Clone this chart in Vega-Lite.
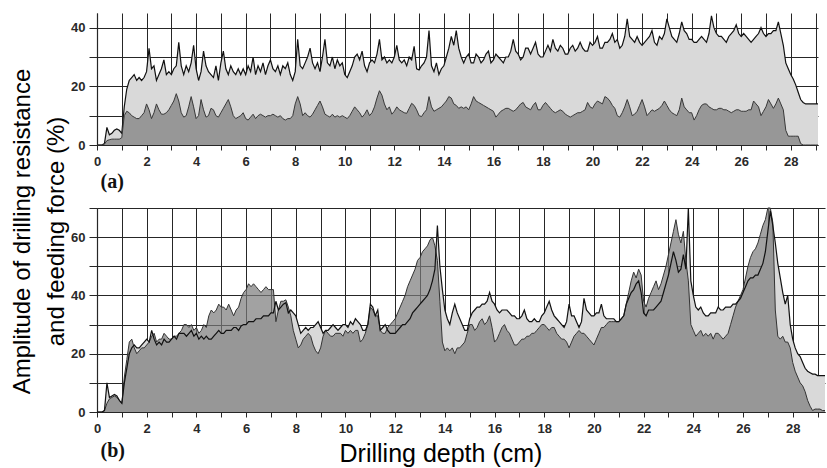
{
"$schema": "https://vega.github.io/schema/vega-lite/v6.json",
"background": "white",
"padding": {"left": 10, "top": 13, "right": 0, "bottom": 0},
"bounds": "flush",
"spacing": 63,
"title": {"text": "Drilling depth (cm)", "orient": "bottom", "anchor": "middle", "offset": -18, "dx": 22, "font": "Liberation Sans", "fontSize": 25, "fontWeight": "normal", "color": "#000"},
"config": {
"view": {"stroke": null},
"axis": {"labelFont": "Liberation Sans", "labelFontWeight": "bold", "labelFontSize": 13, "labelColor": "#2a2a2a", "labelFlush": false, "labelOverlap": false, "grid": true, "gridColor": "#262626", "gridOpacity": 1, "gridWidth": 1, "tickColor": "#262626", "domainColor": "#262626", "domainWidth": 1.2},
"axisX": {"tickSize": 5, "labelPadding": 5},
"axisY": {"tickSize": 8, "labelPadding": 4}
},
"datasets": {
"a": [
{"d":0,"u":0,"l":0},{"d":0.1,"u":0,"l":0},{"d":0.2,"u":0,"l":0},{"d":0.3,"u":0.5,"l":0.3},{"d":0.4,"u":6,"l":1.5},{"d":0.5,"u":3.5,"l":1.8},{"d":0.6,"u":4,"l":2},{"d":0.7,"u":5,"l":2},{"d":0.8,"u":5.5,"l":2},{"d":0.9,"u":5,"l":2},
{"d":1,"u":4,"l":2.5},{"d":1.1,"u":13,"l":10},{"d":1.2,"u":19,"l":11.5},{"d":1.3,"u":22,"l":11},{"d":1.4,"u":23,"l":10},{"d":1.5,"u":24,"l":9.5},{"d":1.6,"u":22,"l":9},{"d":1.7,"u":23,"l":9},{"d":1.8,"u":22,"l":10},{"d":1.9,"u":23,"l":11},
{"d":2,"u":25,"l":14},{"d":2.1,"u":33,"l":12},{"d":2.2,"u":26,"l":9},{"d":2.3,"u":27,"l":11},{"d":2.4,"u":22,"l":14},{"d":2.5,"u":24,"l":12},{"d":2.6,"u":26,"l":10.5},{"d":2.7,"u":29,"l":10.5},{"d":2.8,"u":24,"l":11},{"d":2.9,"u":25,"l":12},
{"d":3,"u":24,"l":13.5},{"d":3.1,"u":26,"l":15},{"d":3.2,"u":27,"l":17.5},{"d":3.3,"u":35,"l":15},{"d":3.4,"u":27,"l":11},{"d":3.5,"u":24,"l":9.5},{"d":3.6,"u":27,"l":10},{"d":3.7,"u":25,"l":13},{"d":3.8,"u":28,"l":16.5},{"d":3.9,"u":34,"l":13},
{"d":4,"u":26,"l":9},{"d":4.1,"u":22,"l":10},{"d":4.2,"u":25,"l":15.5},{"d":4.3,"u":32,"l":12},{"d":4.4,"u":27,"l":9.5},{"d":4.5,"u":25,"l":10},{"d":4.6,"u":24,"l":12.5},{"d":4.7,"u":23,"l":12},{"d":4.8,"u":27,"l":10},{"d":4.9,"u":22,"l":9.5},
{"d":5,"u":28,"l":11},{"d":5.1,"u":32,"l":12.5},{"d":5.2,"u":26,"l":14},{"d":5.3,"u":24,"l":15.5},{"d":5.4,"u":27,"l":13},{"d":5.5,"u":25,"l":10},{"d":5.6,"u":24,"l":9},{"d":5.7,"u":26,"l":9.5},{"d":5.8,"u":24,"l":10},{"d":5.9,"u":26,"l":11},
{"d":6,"u":24,"l":9},{"d":6.1,"u":27,"l":8.5},{"d":6.2,"u":25,"l":9.5},{"d":6.3,"u":30,"l":10.5},{"d":6.4,"u":24,"l":9},{"d":6.5,"u":27,"l":10},{"d":6.6,"u":25,"l":10.5},{"d":6.7,"u":28,"l":10},{"d":6.8,"u":24,"l":9.5},{"d":6.9,"u":27,"l":10},
{"d":7,"u":29,"l":10},{"d":7.1,"u":26,"l":10.5},{"d":7.2,"u":25,"l":10},{"d":7.3,"u":27,"l":9.5},{"d":7.4,"u":24,"l":10},{"d":7.5,"u":27,"l":9},{"d":7.6,"u":26,"l":8.5},{"d":7.7,"u":28,"l":9},{"d":7.8,"u":24,"l":9},{"d":7.9,"u":22,"l":10},
{"d":8,"u":25,"l":14},{"d":8.1,"u":36,"l":16.5},{"d":8.2,"u":27,"l":14},{"d":8.3,"u":26,"l":10},{"d":8.4,"u":28,"l":11},{"d":8.5,"u":30,"l":10},{"d":8.6,"u":33,"l":9.5},{"d":8.7,"u":28,"l":10.5},{"d":8.8,"u":26,"l":12},{"d":8.9,"u":28,"l":13.5},
{"d":9,"u":25,"l":15},{"d":9.1,"u":30,"l":13},{"d":9.2,"u":36,"l":10.5},{"d":9.3,"u":28,"l":10},{"d":9.4,"u":27,"l":9.5},{"d":9.5,"u":30,"l":10.5},{"d":9.6,"u":26,"l":9.5},{"d":9.7,"u":29,"l":10},{"d":9.8,"u":27,"l":9.5},{"d":9.9,"u":28,"l":10},
{"d":10,"u":24,"l":9.5},{"d":10.1,"u":23,"l":9},{"d":10.2,"u":25,"l":10},{"d":10.3,"u":27,"l":11.5},{"d":10.4,"u":30,"l":13},{"d":10.5,"u":31,"l":12},{"d":10.6,"u":29,"l":11},{"d":10.7,"u":32,"l":9.5},{"d":10.8,"u":27,"l":10.5},{"d":10.9,"u":25,"l":12},
{"d":11,"u":28,"l":10},{"d":11.1,"u":29,"l":11},{"d":11.2,"u":28,"l":13},{"d":11.3,"u":31,"l":16},{"d":11.4,"u":36,"l":18.5},{"d":11.5,"u":29,"l":17},{"d":11.6,"u":30,"l":14},{"d":11.7,"u":28,"l":12},{"d":11.8,"u":29,"l":13},{"d":11.9,"u":28,"l":10.5},
{"d":12,"u":30,"l":11.5},{"d":12.1,"u":34,"l":13},{"d":12.2,"u":29,"l":12},{"d":12.3,"u":28,"l":11.5},{"d":12.4,"u":29,"l":11},{"d":12.5,"u":27,"l":10.8},{"d":12.6,"u":30,"l":12.5},{"d":12.7,"u":29,"l":14.2},{"d":12.8,"u":33.6,"l":13.5},{"d":12.9,"u":26,"l":12},
{"d":13,"u":25.6,"l":10},{"d":13.1,"u":27,"l":9.7},{"d":13.2,"u":28,"l":11},{"d":13.3,"u":30,"l":12},{"d":13.4,"u":39,"l":16.5},{"d":13.5,"u":27,"l":13},{"d":13.6,"u":25,"l":11.5},{"d":13.7,"u":28,"l":12},{"d":13.8,"u":24,"l":12.5},{"d":13.9,"u":26,"l":13},
{"d":14,"u":27,"l":14},{"d":14.1,"u":30,"l":15},{"d":14.2,"u":33,"l":16.5},{"d":14.3,"u":37,"l":16},{"d":14.4,"u":34,"l":14},{"d":14.5,"u":39,"l":13.5},{"d":14.6,"u":33,"l":12.5},{"d":14.7,"u":30,"l":13},{"d":14.8,"u":28,"l":12.5},{"d":14.9,"u":30,"l":13},
{"d":15,"u":31,"l":12},{"d":15.1,"u":28,"l":14},{"d":15.2,"u":28,"l":16.5},{"d":15.3,"u":31,"l":15},{"d":15.4,"u":30,"l":14.5},{"d":15.5,"u":28,"l":14},{"d":15.6,"u":29,"l":13.5},{"d":15.7,"u":31,"l":13},{"d":15.8,"u":32,"l":12.5},{"d":15.9,"u":28,"l":12},
{"d":16,"u":29,"l":11.5},{"d":16.1,"u":31,"l":9.5},{"d":16.2,"u":30,"l":10.5},{"d":16.3,"u":29,"l":11.5},{"d":16.4,"u":28,"l":12},{"d":16.5,"u":30,"l":12.5},{"d":16.6,"u":30,"l":12.5},{"d":16.7,"u":32,"l":12},{"d":16.8,"u":36,"l":11.5},{"d":16.9,"u":32,"l":12},
{"d":17,"u":31,"l":13},{"d":17.1,"u":29,"l":14},{"d":17.2,"u":30,"l":14.5},{"d":17.3,"u":33,"l":13},{"d":17.4,"u":33,"l":12.5},{"d":17.5,"u":31,"l":12},{"d":17.6,"u":33,"l":13.5},{"d":17.7,"u":35,"l":14.5},{"d":17.8,"u":31,"l":12},{"d":17.9,"u":30,"l":12},
{"d":18,"u":30,"l":13.5},{"d":18.1,"u":32,"l":14.5},{"d":18.2,"u":34,"l":13.5},{"d":18.3,"u":32,"l":12.5},{"d":18.4,"u":36,"l":11.5},{"d":18.5,"u":33,"l":11},{"d":18.6,"u":32,"l":11.5},{"d":18.7,"u":34,"l":12},{"d":18.8,"u":33,"l":11.5},{"d":18.9,"u":31,"l":10.5},
{"d":19,"u":31,"l":10},{"d":19.1,"u":33,"l":9.5},{"d":19.2,"u":34,"l":10},{"d":19.3,"u":32,"l":10.5},{"d":19.4,"u":33,"l":11},{"d":19.5,"u":35,"l":11},{"d":19.6,"u":33,"l":11.5},{"d":19.7,"u":32,"l":12},{"d":19.8,"u":32,"l":14.5},{"d":19.9,"u":35,"l":13},
{"d":20,"u":34,"l":12.5},{"d":20.1,"u":35,"l":14},{"d":20.2,"u":37,"l":15},{"d":20.3,"u":33,"l":14.5},{"d":20.4,"u":33,"l":14},{"d":20.5,"u":35,"l":16.5},{"d":20.6,"u":35,"l":16},{"d":20.7,"u":36,"l":15},{"d":20.8,"u":38,"l":13.5},{"d":20.9,"u":35,"l":12.5},
{"d":21,"u":36,"l":10},{"d":21.1,"u":33,"l":9.5},{"d":21.2,"u":34,"l":11},{"d":21.3,"u":37,"l":13},{"d":21.4,"u":43,"l":15.5},{"d":21.5,"u":37,"l":13},{"d":21.6,"u":36,"l":10},{"d":21.7,"u":35,"l":10.5},{"d":21.8,"u":37,"l":11.5},{"d":21.9,"u":35,"l":13.5},
{"d":22,"u":34,"l":15.5},{"d":22.1,"u":35,"l":13},{"d":22.2,"u":36,"l":10},{"d":22.3,"u":37,"l":11},{"d":22.4,"u":39,"l":12},{"d":22.5,"u":35,"l":11.5},{"d":22.6,"u":34,"l":12},{"d":22.7,"u":37,"l":12.5},{"d":22.8,"u":36,"l":13.5},{"d":22.9,"u":38,"l":15},
{"d":23,"u":43,"l":13.5},{"d":23.1,"u":40,"l":12},{"d":23.2,"u":37,"l":11},{"d":23.3,"u":36,"l":10.5},{"d":23.4,"u":35,"l":10},{"d":23.5,"u":38,"l":12},{"d":23.6,"u":42,"l":16},{"d":23.7,"u":39,"l":13},{"d":23.8,"u":38,"l":12},{"d":23.9,"u":36,"l":11},
{"d":24,"u":36,"l":11},{"d":24.1,"u":35,"l":8.5},{"d":24.2,"u":35,"l":10},{"d":24.3,"u":36,"l":12},{"d":24.4,"u":37,"l":13.5},{"d":24.5,"u":36,"l":14},{"d":24.6,"u":35,"l":14},{"d":24.7,"u":38,"l":13},{"d":24.8,"u":44,"l":12.5},{"d":24.9,"u":40,"l":12},
{"d":25,"u":38,"l":12},{"d":25.1,"u":37,"l":12.5},{"d":25.2,"u":37,"l":12.5},{"d":25.3,"u":36,"l":12},{"d":25.4,"u":35,"l":12},{"d":25.5,"u":37,"l":11.5},{"d":25.6,"u":38,"l":11},{"d":25.7,"u":39,"l":11.5},{"d":25.8,"u":41,"l":12},{"d":25.9,"u":38,"l":12},
{"d":26,"u":37,"l":11.5},{"d":26.1,"u":38,"l":11.5},{"d":26.2,"u":37,"l":11.5},{"d":26.3,"u":36,"l":12},{"d":26.4,"u":35,"l":12},{"d":26.5,"u":36,"l":15},{"d":26.6,"u":37,"l":14},{"d":26.7,"u":38,"l":13},{"d":26.8,"u":40,"l":10},{"d":26.9,"u":38,"l":11.5},
{"d":27,"u":37,"l":13},{"d":27.1,"u":38,"l":15.5},{"d":27.2,"u":38,"l":14},{"d":27.3,"u":39,"l":12.5},{"d":27.4,"u":39,"l":14},{"d":27.5,"u":42,"l":16},{"d":27.6,"u":38,"l":14},{"d":27.7,"u":34,"l":12},{"d":27.8,"u":28,"l":5},{"d":27.9,"u":26,"l":3},
{"d":28,"u":24,"l":3},{"d":28.1,"u":22.5,"l":3},{"d":28.2,"u":20.5,"l":3},{"d":28.3,"u":18,"l":3},{"d":28.4,"u":15.5,"l":0.5},{"d":28.5,"u":14.5,"l":0},{"d":28.6,"u":14,"l":0},{"d":28.7,"u":14,"l":0},{"d":28.8,"u":14,"l":0},{"d":28.9,"u":14,"l":0},
{"d":29,"u":14,"l":0},{"d":29.1,"u":14,"l":0}
],
"b": [
{"d":0,"dk":0,"lt":0},{"d":0.1,"dk":0,"lt":0},{"d":0.2,"dk":0,"lt":0},{"d":0.3,"dk":0.5,"lt":0.5},{"d":0.4,"dk":3,"lt":10},{"d":0.5,"dk":4.5,"lt":5},{"d":0.6,"dk":5,"lt":5.5},{"d":0.7,"dk":5.5,"lt":6},{"d":0.8,"dk":5,"lt":5.5},{"d":0.9,"dk":4,"lt":4},
{"d":1,"dk":3,"lt":3},{"d":1.1,"dk":12,"lt":10},{"d":1.2,"dk":18,"lt":15},{"d":1.3,"dk":24,"lt":20},{"d":1.4,"dk":25,"lt":22},{"d":1.5,"dk":22,"lt":23},{"d":1.6,"dk":20,"lt":22},{"d":1.7,"dk":21,"lt":22},{"d":1.8,"dk":22,"lt":23},{"d":1.9,"dk":22,"lt":24},
{"d":2,"dk":23,"lt":25},{"d":2.1,"dk":24,"lt":24},{"d":2.2,"dk":26,"lt":28},{"d":2.3,"dk":27,"lt":25},{"d":2.4,"dk":24,"lt":23},{"d":2.5,"dk":25,"lt":24},{"d":2.6,"dk":25,"lt":23},{"d":2.7,"dk":27,"lt":25},{"d":2.8,"dk":26,"lt":24},{"d":2.9,"dk":25,"lt":24},
{"d":3,"dk":25,"lt":25},{"d":3.1,"dk":26,"lt":26},{"d":3.2,"dk":26,"lt":25},{"d":3.3,"dk":27,"lt":27},{"d":3.4,"dk":28,"lt":27},{"d":3.5,"dk":30,"lt":27},{"d":3.6,"dk":30,"lt":26},{"d":3.7,"dk":29,"lt":27},{"d":3.8,"dk":30,"lt":28},{"d":3.9,"dk":28,"lt":26},
{"d":4,"dk":29,"lt":27},{"d":4.1,"dk":27,"lt":25},{"d":4.2,"dk":28,"lt":26},{"d":4.3,"dk":30,"lt":25},{"d":4.4,"dk":29,"lt":26},{"d":4.5,"dk":33,"lt":25},{"d":4.6,"dk":35,"lt":25},{"d":4.7,"dk":34,"lt":26},{"d":4.8,"dk":35,"lt":27},{"d":4.9,"dk":37,"lt":28},
{"d":5,"dk":36,"lt":27},{"d":5.1,"dk":36,"lt":27},{"d":5.2,"dk":35,"lt":28},{"d":5.3,"dk":37,"lt":28},{"d":5.4,"dk":35,"lt":28},{"d":5.5,"dk":33,"lt":29},{"d":5.6,"dk":35,"lt":29},{"d":5.7,"dk":36,"lt":28},{"d":5.8,"dk":39,"lt":29.5},{"d":5.9,"dk":41,"lt":30},
{"d":6,"dk":42,"lt":30},{"d":6.1,"dk":44,"lt":31},{"d":6.2,"dk":43,"lt":31},{"d":6.3,"dk":44,"lt":31},{"d":6.4,"dk":43,"lt":32},{"d":6.5,"dk":42,"lt":32},{"d":6.6,"dk":41,"lt":32},{"d":6.7,"dk":42,"lt":33},{"d":6.8,"dk":43,"lt":33},{"d":6.9,"dk":42,"lt":33},
{"d":7,"dk":42,"lt":34},{"d":7.1,"dk":42,"lt":34},{"d":7.2,"dk":31,"lt":38},{"d":7.3,"dk":35,"lt":35},{"d":7.4,"dk":38,"lt":36},{"d":7.5,"dk":38,"lt":37},{"d":7.6,"dk":38.5,"lt":37.5},{"d":7.7,"dk":36,"lt":34},{"d":7.8,"dk":33,"lt":35},{"d":7.9,"dk":28,"lt":34},
{"d":8,"dk":25,"lt":33},{"d":8.1,"dk":22,"lt":30},{"d":8.2,"dk":23,"lt":27},{"d":8.3,"dk":25,"lt":28},{"d":8.4,"dk":26,"lt":29},{"d":8.5,"dk":27,"lt":28},{"d":8.6,"dk":26,"lt":29},{"d":8.7,"dk":23,"lt":29},{"d":8.8,"dk":21,"lt":30},{"d":8.9,"dk":20,"lt":31},
{"d":9,"dk":22,"lt":29},{"d":9.1,"dk":26,"lt":27},{"d":9.2,"dk":28,"lt":28},{"d":9.3,"dk":27,"lt":28},{"d":9.4,"dk":26,"lt":29},{"d":9.5,"dk":26,"lt":30},{"d":9.6,"dk":27,"lt":29},{"d":9.7,"dk":27,"lt":28},{"d":9.8,"dk":27,"lt":29},{"d":9.9,"dk":26,"lt":30},
{"d":10,"dk":28,"lt":30},{"d":10.1,"dk":27,"lt":29},{"d":10.2,"dk":28,"lt":31},{"d":10.3,"dk":27,"lt":30},{"d":10.4,"dk":28,"lt":32},{"d":10.5,"dk":28,"lt":31},{"d":10.6,"dk":24,"lt":30},{"d":10.7,"dk":25,"lt":28},{"d":10.8,"dk":27,"lt":28},{"d":10.9,"dk":30,"lt":30},
{"d":11,"dk":36,"lt":37},{"d":11.1,"dk":35,"lt":36},{"d":11.2,"dk":33,"lt":33},{"d":11.3,"dk":33,"lt":35},{"d":11.4,"dk":28,"lt":28},{"d":11.5,"dk":27,"lt":29},{"d":11.6,"dk":27,"lt":30},{"d":11.7,"dk":29,"lt":28},{"d":11.8,"dk":30,"lt":27},{"d":11.9,"dk":31,"lt":27},
{"d":12,"dk":32,"lt":27},{"d":12.1,"dk":34,"lt":28},{"d":12.2,"dk":36,"lt":29},{"d":12.3,"dk":38,"lt":30},{"d":12.4,"dk":40,"lt":30},{"d":12.5,"dk":43,"lt":31},{"d":12.6,"dk":45,"lt":32},{"d":12.7,"dk":47,"lt":34},{"d":12.8,"dk":49,"lt":35},{"d":12.9,"dk":52,"lt":36},
{"d":13,"dk":53,"lt":37},{"d":13.1,"dk":55,"lt":38},{"d":13.2,"dk":56,"lt":39},{"d":13.3,"dk":57,"lt":40},{"d":13.4,"dk":59,"lt":42},{"d":13.5,"dk":60,"lt":45},{"d":13.6,"dk":57,"lt":49},{"d":13.7,"dk":52,"lt":64},{"d":13.8,"dk":38,"lt":50},{"d":13.9,"dk":24,"lt":42},
{"d":14,"dk":21,"lt":35},{"d":14.1,"dk":22,"lt":32},{"d":14.2,"dk":21,"lt":30},{"d":14.3,"dk":22,"lt":34},{"d":14.4,"dk":20,"lt":37},{"d":14.5,"dk":22,"lt":34},{"d":14.6,"dk":22,"lt":32},{"d":14.7,"dk":23,"lt":30},{"d":14.8,"dk":24,"lt":28},{"d":14.9,"dk":27,"lt":28},
{"d":15,"dk":30,"lt":32},{"d":15.1,"dk":30,"lt":34},{"d":15.2,"dk":28,"lt":35},{"d":15.3,"dk":29,"lt":36},{"d":15.4,"dk":31,"lt":36},{"d":15.5,"dk":32,"lt":37},{"d":15.6,"dk":30,"lt":37},{"d":15.7,"dk":31,"lt":38},{"d":15.8,"dk":33,"lt":41},{"d":15.9,"dk":29,"lt":38},
{"d":16,"dk":24,"lt":37},{"d":16.1,"dk":25,"lt":35},{"d":16.2,"dk":27,"lt":34},{"d":16.3,"dk":29,"lt":35},{"d":16.4,"dk":30,"lt":35},{"d":16.5,"dk":28,"lt":35},{"d":16.6,"dk":27,"lt":34},{"d":16.7,"dk":25,"lt":33},{"d":16.8,"dk":23,"lt":33},{"d":16.9,"dk":23,"lt":32},
{"d":17,"dk":24,"lt":32},{"d":17.1,"dk":25,"lt":33},{"d":17.2,"dk":25,"lt":35},{"d":17.3,"dk":26,"lt":32},{"d":17.4,"dk":26,"lt":31},{"d":17.5,"dk":27,"lt":31},{"d":17.6,"dk":27,"lt":32},{"d":17.7,"dk":28,"lt":31},{"d":17.8,"dk":29,"lt":31},{"d":17.9,"dk":30,"lt":33},
{"d":18,"dk":30,"lt":34},{"d":18.1,"dk":29,"lt":36},{"d":18.2,"dk":28,"lt":38},{"d":18.3,"dk":29,"lt":35},{"d":18.4,"dk":29,"lt":33},{"d":18.5,"dk":27,"lt":32},{"d":18.6,"dk":26,"lt":31},{"d":18.7,"dk":25,"lt":30},{"d":18.8,"dk":25,"lt":29},{"d":18.9,"dk":24,"lt":31},
{"d":19,"dk":22,"lt":37},{"d":19.1,"dk":24,"lt":33},{"d":19.2,"dk":26,"lt":33},{"d":19.3,"dk":27,"lt":31},{"d":19.4,"dk":28,"lt":29},{"d":19.5,"dk":27,"lt":31},{"d":19.6,"dk":27,"lt":39},{"d":19.7,"dk":26,"lt":35},{"d":19.8,"dk":25,"lt":34},{"d":19.9,"dk":24,"lt":33},
{"d":20,"dk":23,"lt":33},{"d":20.1,"dk":25,"lt":34},{"d":20.2,"dk":27,"lt":34},{"d":20.3,"dk":29,"lt":37},{"d":20.4,"dk":29,"lt":33},{"d":20.5,"dk":30,"lt":32},{"d":20.6,"dk":31,"lt":32},{"d":20.7,"dk":31,"lt":32},{"d":20.8,"dk":31,"lt":32},{"d":20.9,"dk":31,"lt":31},
{"d":21,"dk":31,"lt":31},{"d":21.1,"dk":32,"lt":32},{"d":21.2,"dk":33,"lt":33},{"d":21.3,"dk":37,"lt":37},{"d":21.4,"dk":41,"lt":39},{"d":21.5,"dk":45,"lt":41},{"d":21.6,"dk":48,"lt":42},{"d":21.7,"dk":46,"lt":44},{"d":21.8,"dk":49,"lt":45},{"d":21.9,"dk":47,"lt":41},
{"d":22,"dk":38,"lt":34},{"d":22.1,"dk":36,"lt":33},{"d":22.2,"dk":39,"lt":35},{"d":22.3,"dk":41,"lt":35},{"d":22.4,"dk":43,"lt":35},{"d":22.5,"dk":45,"lt":36},{"d":22.6,"dk":42,"lt":37},{"d":22.7,"dk":44,"lt":38},{"d":22.8,"dk":47,"lt":41},{"d":22.9,"dk":50,"lt":44},
{"d":23,"dk":54,"lt":47},{"d":23.1,"dk":58,"lt":51},{"d":23.2,"dk":62,"lt":55},{"d":23.3,"dk":66,"lt":52},{"d":23.4,"dk":61,"lt":48},{"d":23.5,"dk":58,"lt":49},{"d":23.6,"dk":62,"lt":54},{"d":23.7,"dk":52,"lt":49},{"d":23.8,"dk":45,"lt":70},{"d":23.9,"dk":30,"lt":45},
{"d":24,"dk":28,"lt":40},{"d":24.1,"dk":26,"lt":36},{"d":24.2,"dk":27,"lt":35},{"d":24.3,"dk":28,"lt":36},{"d":24.4,"dk":26,"lt":34},{"d":24.5,"dk":27,"lt":33},{"d":24.6,"dk":26,"lt":33},{"d":24.7,"dk":27,"lt":34},{"d":24.8,"dk":25,"lt":34},{"d":24.9,"dk":27,"lt":34},
{"d":25,"dk":27,"lt":36},{"d":25.1,"dk":26,"lt":35},{"d":25.2,"dk":25,"lt":35},{"d":25.3,"dk":26,"lt":36},{"d":25.4,"dk":27,"lt":36},{"d":25.5,"dk":30,"lt":36},{"d":25.6,"dk":33,"lt":37},{"d":25.7,"dk":36,"lt":37},{"d":25.8,"dk":38,"lt":38},{"d":25.9,"dk":40,"lt":39},
{"d":26,"dk":42,"lt":41},{"d":26.1,"dk":46,"lt":43},{"d":26.2,"dk":50,"lt":45},{"d":26.3,"dk":53,"lt":46},{"d":26.4,"dk":55,"lt":46},{"d":26.5,"dk":56,"lt":47},{"d":26.6,"dk":58,"lt":47},{"d":26.7,"dk":61,"lt":49},{"d":26.8,"dk":64,"lt":51},{"d":26.9,"dk":66,"lt":55},
{"d":27,"dk":70,"lt":62},{"d":27.1,"dk":70,"lt":69},{"d":27.2,"dk":65,"lt":64},{"d":27.3,"dk":35,"lt":58},{"d":27.4,"dk":26,"lt":51},{"d":27.5,"dk":25,"lt":46},{"d":27.6,"dk":26,"lt":41},{"d":27.7,"dk":24,"lt":37},{"d":27.8,"dk":24,"lt":40},{"d":27.9,"dk":22,"lt":30},
{"d":28,"dk":17,"lt":25},{"d":28.1,"dk":14,"lt":22},{"d":28.2,"dk":12,"lt":20},{"d":28.3,"dk":10,"lt":19},{"d":28.4,"dk":9,"lt":17},{"d":28.5,"dk":7,"lt":15},{"d":28.6,"dk":4,"lt":14},{"d":28.7,"dk":2,"lt":13.5},{"d":28.8,"dk":0.5,"lt":13},{"d":28.9,"dk":1,"lt":13},
{"d":29,"dk":1,"lt":12.5},{"d":29.1,"dk":1,"lt":12.5},{"d":29.2,"dk":0.5,"lt":12.5},{"d":29.3,"dk":0.5,"lt":12.5}
]
},
"vconcat": [
{
"width": 721, "height": 132,
"data": {"name": "a"},
"encoding": {
"x": {"field": "d", "type": "quantitative", "scale": {"domain": [0, 29.1], "nice": false, "zero": false},
"axis": {"values": [0,1,2,3,4,5,6,7,8,9,10,11,12,13,14,15,16,17,18,19,20,21,22,23,24,25,26,27,28,29], "labelExpr": "datum.value % 2 === 0 ? datum.label : ''", "title": "(a)", "titleFont": "Liberation Serif", "titleFontSize": 20, "titleFontWeight": "bold", "titleColor": "#111", "titleAlign": "left", "titleAnchor": "start", "titleX": 3, "titlePadding": 3}}
},
"layer": [
{"mark": {"type": "area", "color": "#d9d9d9"}, "encoding": {"y": {"field": "u", "type": "quantitative", "scale": {"domain": [0, 45], "nice": false}, "axis": {"values": [0,10,20,30,40], "labelExpr": "datum.value % 20 === 0 ? datum.label : ''", "title": null}}}},
{"mark": {"type": "line", "color": "#111", "strokeWidth": 1.2}, "encoding": {"y": {"field": "u", "type": "quantitative", "scale": {"domain": [0, 45], "nice": false}, "axis": {"values": [0,10,20,30,40], "labelExpr": "datum.value % 20 === 0 ? datum.label : ''", "title": null}}}},
{"mark": {"type": "area", "color": "#7b7b7b", "line": {"color": "#383838", "strokeWidth": 1}}, "encoding": {"y": {"field": "l", "type": "quantitative", "scale": {"domain": [0, 45], "nice": false}, "axis": {"values": [0,10,20,30,40], "labelExpr": "datum.value % 20 === 0 ? datum.label : ''", "title": null}}}}
]
},
{
"width": 728, "height": 204,
"data": {"name": "b"},
"encoding": {
"x": {"field": "d", "type": "quantitative", "scale": {"domain": [0, 29.3], "nice": false, "zero": false},
"axis": {"values": [0,1,2,3,4,5,6,7,8,9,10,11,12,13,14,15,16,17,18,19,20,21,22,23,24,25,26,27,28,29], "labelExpr": "datum.value % 2 === 0 ? datum.label : ''", "title": "(b)", "titleFont": "Liberation Serif", "titleFontSize": 20, "titleFontWeight": "bold", "titleColor": "#111", "titleAlign": "left", "titleAnchor": "start", "titleX": 3, "titlePadding": 5}}
},
"layer": [
{"mark": {"type": "area", "color": "#d9d9d9"}, "encoding": {"y": {"field": "lt", "type": "quantitative", "scale": {"domain": [0, 70], "nice": false},
"axis": {"values": [0,10,20,30,40,50,60,70], "labelExpr": "datum.value % 20 === 0 ? datum.label : ''", "title": ["Amplitude of drilling resistance", "and feeding force (%)"], "titleFont": "Liberation Sans", "titleFontSize": 24, "titleFontWeight": "normal", "titleColor": "#000", "titleLineHeight": 34, "titlePadding": 2, "titleY": 23}}}},
{"mark": {"type": "area", "color": "#7a7a7a", "line": {"color": "#333", "strokeWidth": 1}}, "encoding": {"y": {"field": "dk", "type": "quantitative", "scale": {"domain": [0, 70], "nice": false},
"axis": {"values": [0,10,20,30,40,50,60,70], "labelExpr": "datum.value % 20 === 0 ? datum.label : ''", "title": ["Amplitude of drilling resistance", "and feeding force (%)"], "titleFont": "Liberation Sans", "titleFontSize": 24, "titleFontWeight": "normal", "titleColor": "#000", "titleLineHeight": 34, "titlePadding": 2, "titleY": 23}}}},
{"mark": {"type": "line", "color": "#111", "strokeWidth": 1.2}, "encoding": {"y": {"field": "lt", "type": "quantitative", "scale": {"domain": [0, 70], "nice": false},
"axis": {"values": [0,10,20,30,40,50,60,70], "labelExpr": "datum.value % 20 === 0 ? datum.label : ''", "title": ["Amplitude of drilling resistance", "and feeding force (%)"], "titleFont": "Liberation Sans", "titleFontSize": 24, "titleFontWeight": "normal", "titleColor": "#000", "titleLineHeight": 34, "titlePadding": 2, "titleY": 23}}}}
]
}
]
}
